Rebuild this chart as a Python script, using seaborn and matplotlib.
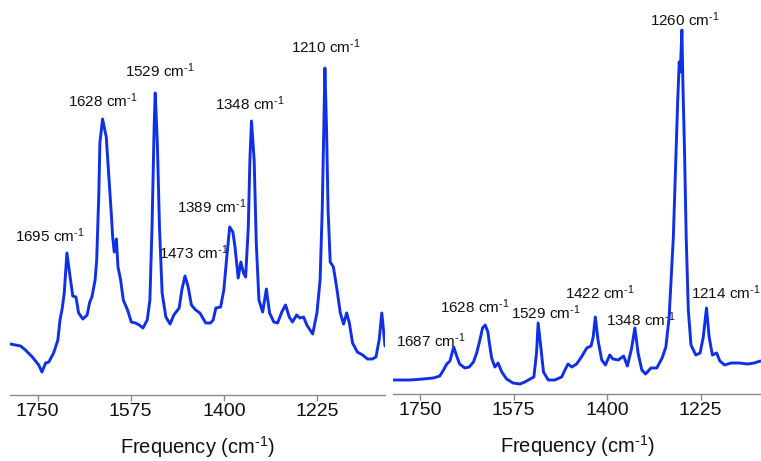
import matplotlib
matplotlib.use("Agg")
import matplotlib.pyplot as plt
import pandas as pd
import seaborn as sns

# Spectrum A (left panel): frequency (cm^-1) and intensity (a.u.)
left_freq = [1801, 1792, 1782, 1773, 1760, 1748, 1742, 1735, 1729, 1720,
             1712, 1708, 1704, 1700, 1695, 1690, 1684, 1678, 1673, 1665,
             1657, 1652, 1648, 1642, 1639, 1635, 1633, 1628, 1623, 1621,
             1617, 1612, 1609, 1606, 1602, 1599, 1594, 1589, 1581, 1574,
             1566, 1559, 1552, 1544, 1539, 1535, 1531, 1529, 1525, 1521,
             1516, 1509, 1501, 1494, 1484, 1479, 1473, 1467, 1461, 1453,
             1445, 1434, 1425, 1420, 1415, 1406, 1400, 1395, 1389, 1383,
             1379, 1373, 1368, 1363, 1359, 1354, 1351, 1348, 1343, 1339,
             1334, 1327, 1320, 1314, 1306, 1299, 1291, 1284, 1277, 1271,
             1263, 1257, 1250, 1244, 1233, 1225, 1219, 1215, 1212, 1210,
             1207, 1204, 1200, 1194, 1188, 1181, 1175, 1169, 1164, 1158,
             1149, 1139, 1130, 1121, 1114, 1108, 1103, 1097]
left_int = [0.51, 0.50, 0.49, 0.45, 0.38, 0.30, 0.23, 0.32, 0.33, 0.42,
            0.55, 0.75, 0.86, 1.02, 1.42, 1.22, 0.99, 0.98, 0.82, 0.76,
            0.80, 0.93, 0.98, 1.15, 1.35, 2.02, 2.52, 2.76, 2.63, 2.58,
            2.25, 1.85, 1.58, 1.43, 1.56, 1.28, 1.15, 0.95, 0.85, 0.73,
            0.72, 0.70, 0.67, 0.75, 0.95, 1.68, 2.68, 3.02, 2.52, 1.68,
            1.02, 0.78, 0.71, 0.80, 0.87, 1.05, 1.19, 1.08, 0.90, 0.85,
            0.82, 0.72, 0.72, 0.75, 0.87, 0.88, 1.05, 1.35, 1.68, 1.63,
            1.48, 1.17, 1.33, 1.22, 1.18, 1.68, 2.35, 2.74, 2.35, 1.52,
            0.95, 0.83, 1.06, 0.82, 0.73, 0.72, 0.83, 0.90, 0.78, 0.73,
            0.80, 0.77, 0.78, 0.70, 0.61, 0.82, 1.15, 1.85, 2.68, 3.27,
            2.68, 1.85, 1.33, 1.28, 1.08, 0.82, 0.71, 0.82, 0.72, 0.52,
            0.43, 0.40, 0.36, 0.36, 0.38, 0.55, 0.82, 0.49]
left_peaks = [1695, 1628, 1529, 1473, 1389, 1348, 1210]

# Spectrum B (right panel)
right_freq = [1800, 1769, 1744, 1725, 1713, 1706, 1700, 1694, 1690, 1687,
              1682, 1676, 1666, 1658, 1650, 1644, 1638, 1633, 1628, 1623,
              1620, 1616, 1610, 1604, 1597, 1588, 1576, 1563, 1554, 1544,
              1537, 1532, 1529, 1524, 1519, 1510, 1498, 1485, 1477, 1473,
              1466, 1457, 1448, 1438, 1430, 1426, 1422, 1417, 1410, 1403,
              1395, 1389, 1379, 1369, 1362, 1354, 1348, 1342, 1335, 1328,
              1318, 1307, 1297, 1290, 1284, 1276, 1271, 1268, 1265, 1263,
              1260, 1258, 1255, 1252, 1248, 1243, 1234, 1226, 1220, 1214,
              1209, 1203, 1195, 1189, 1180, 1168, 1153, 1137, 1125, 1113]
right_int = [0.14, 0.14, 0.15, 0.16, 0.18, 0.24, 0.30, 0.33, 0.41, 0.47,
             0.39, 0.30, 0.26, 0.27, 0.32, 0.41, 0.54, 0.66, 0.69, 0.62,
             0.50, 0.36, 0.27, 0.31, 0.22, 0.15, 0.11, 0.10, 0.12, 0.15,
             0.17, 0.41, 0.71, 0.47, 0.22, 0.14, 0.14, 0.17, 0.26, 0.30,
             0.27, 0.30, 0.37, 0.46, 0.48, 0.57, 0.77, 0.54, 0.34, 0.29,
             0.39, 0.35, 0.34, 0.38, 0.28, 0.46, 0.66, 0.41, 0.24, 0.20,
             0.26, 0.26, 0.36, 0.47, 0.76, 1.57, 2.41, 2.91, 3.32, 3.22,
             3.64, 3.07, 2.41, 1.57, 0.84, 0.49, 0.39, 0.41, 0.57, 0.86,
             0.57, 0.39, 0.41, 0.33, 0.29, 0.31, 0.31, 0.30, 0.31, 0.33]
right_peaks = [1687, 1628, 1529, 1422, 1348, 1260, 1214]

freq_ticks = [1750, 1575, 1400, 1225]

sns.set_theme(style="white")
plt.rcParams["font.family"] = ["Liberation Sans", "DejaVu Sans"]
plt.rcParams["mathtext.fontset"] = "custom"
plt.rcParams["mathtext.rm"] = "Liberation Sans"
plt.rcParams["mathtext.it"] = "Liberation Sans:italic"
plt.rcParams["mathtext.bf"] = "Liberation Sans:bold"

LINE_COLOR = "#0f30e4"
AXIS_COLOR = "#8a8a8a"
WAVENUMBER = r"cm$^{\text{-}1}$"

W, H = 761, 461
fig = plt.figure(figsize=(W / 100, H / 100), dpi=100)
ax_left = fig.add_axes([10 / W, 66 / H, 375 / W, 375 / H])
ax_right = fig.add_axes([393.3 / W, 67 / H, 367.7 / W, 374 / H])

# label offsets from each peak top, in points
left_offsets = [(-12.2, 12.2), (0.5, 13.0), (3.6, 15.8), (6.5, 16.9),
                (-13.0, 14.4), (-1.2, 12.2), (0.7, 15.1)]
right_offsets = [(-16.2, 4.3), (-7.2, 13.0), (5.8, 7.6), (2.9, 17.3),
                 (4.3, 6.2), (2.2, 7.2), (13.7, 10.8)]


def draw_panel(ax, freq, inten, peaks, offsets, xlim, ylim):
    df = pd.DataFrame({"freq": freq, "intensity": inten})
    sns.lineplot(data=df, x="freq", y="intensity", ax=ax, color=LINE_COLOR,
                 linewidth=2.1, estimator=None, sort=False)
    ax.set_xlim(*xlim)
    ax.set_ylim(*ylim)
    ax.set_xticks(freq_ticks)
    ax.set_xticklabels([str(t) for t in freq_ticks])
    ax.set_yticks([])
    ax.set_ylabel("")
    ax.set_xlabel(f"Frequency ({WAVENUMBER})", fontsize=14.5, labelpad=10,
                  color="#111111")
    ax.tick_params(axis="x", bottom=True, direction="out", length=4,
                   width=1.0, color=AXIS_COLOR, labelsize=14, pad=2,
                   labelcolor="#111111")
    for side in ("left", "top", "right"):
        ax.spines[side].set_visible(False)
    ax.spines["bottom"].set_color(AXIS_COLOR)
    ax.spines["bottom"].set_linewidth(1.0)
    ax.set_facecolor("none")
    for p, (dx, dy) in zip(peaks, offsets):
        y = inten[freq.index(p)]
        ax.annotate(f"{p} {WAVENUMBER}", xy=(p, y), xytext=(dx, dy),
                    textcoords="offset points", ha="center", va="center",
                    fontsize=11, color="#111111", annotation_clip=False)


draw_panel(ax_left, left_freq, left_int, left_peaks, left_offsets,
           (1802, 1097), (0, 3.75))
draw_panel(ax_right, right_freq, right_int, right_peaks, right_offsets,
           (1800, 1112), (0, 3.74))

fig.savefig("out.png", dpi=100)
